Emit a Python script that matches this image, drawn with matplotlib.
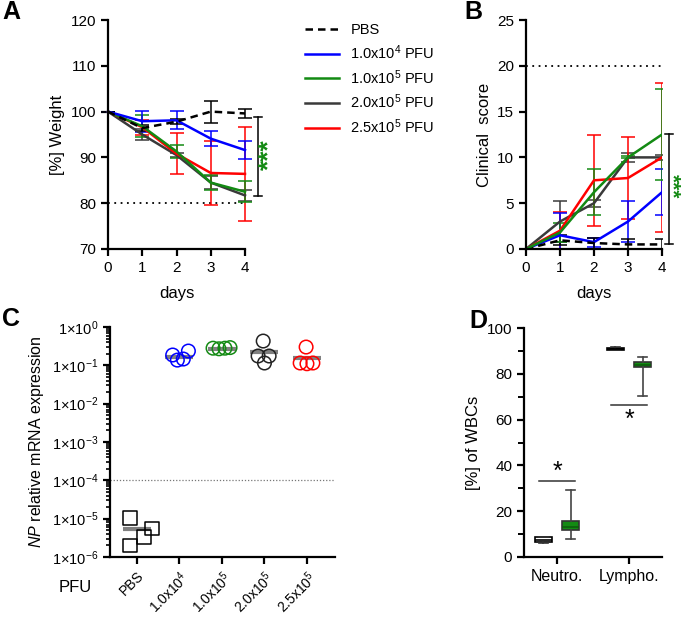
import numpy as np
import matplotlib
matplotlib.use('Agg')
import matplotlib.pyplot as plt
from matplotlib.ticker import LogLocator, NullFormatter, FixedLocator

plt.rcParams['font.family'] = ['Liberation Sans', 'DejaVu Sans']
plt.rcParams['mathtext.fontset'] = 'custom'
plt.rcParams['mathtext.rm'] = 'Liberation Sans'
plt.rcParams['mathtext.it'] = 'Liberation Sans:italic'
plt.rcParams['mathtext.bf'] = 'Liberation Sans:bold'

# ---- data ----
days = [0, 1, 2, 3, 4]
groups = ['PBS', '1.0x10$^4$ PFU', '1.0x10$^5$ PFU', '2.0x10$^5$ PFU', '2.5x10$^5$ PFU']
colors = ['black', '#0000ff', '#138a13', '#3a3a3a', '#ff0000']

# panel A: weight (%) mean and sd
weight_pbs = [100, 96.4, 97.8, 100.0, 99.6]
weight_pbs_err = [0, 0.6, 0.6, 2.4, 0.9]
weight_1e4 = [100, 97.9, 98.1, 94.1, 91.6]
weight_1e4_err = [0, 2.3, 2.0, 1.6, 2.0]
weight_1e5 = [100, 96.8, 91.3, 84.5, 82.5]
weight_1e5_err = [0, 2.4, 1.4, 1.6, 2.3]
weight_2e5 = [100, 95.0, 90.5, 84.5, 81.7]
weight_2e5_err = [0, 1.2, 0.5, 1.4, 1.2]
weight_25e5 = [100, 96.6, 90.8, 86.6, 86.4]
weight_25e5_err = [0, 1.6, 4.5, 7.0, 10.2]

# panel B: clinical score mean and sd
score_pbs = [0, 0.95, 0.65, 0.5, 0.5]
score_pbs_err = [0, 0.55, 0.6, 0.6, 0.6]
score_1e4 = [0, 1.5, 0.75, 3.0, 6.2]
score_1e4_err = [0, 2.4, 0.5, 2.25, 2.5]
score_1e5 = [0, 1.8, 6.2, 10.0, 12.5]
score_1e5_err = [0, 1.0, 2.5, 0.1, 5.0]
score_2e5 = [0, 3.0, 5.0, 10.0, 10.0]
score_2e5_err = [0, 2.25, 0.4, 0.5, 0.3]
score_25e5 = [0, 2.0, 7.5, 7.75, 10.0]
score_25e5_err = [0, 2.0, 5.0, 4.5, 8.1]

# panel C: NP relative mRNA expression
pfu_labels = ['PBS', '1.0x10$^4$', '1.0x10$^5$', '2.0x10$^5$', '2.5x10$^5$']
np_pbs = [1.03e-5, 5.6e-6, 3.3e-6, 2.0e-6]
np_1e4 = [0.186, 0.137, 0.146, 0.236]
np_1e5 = [0.28, 0.27, 0.28, 0.29]
np_2e5 = [0.43, 0.175, 0.175, 0.115]
np_25e5 = [0.30, 0.115, 0.11, 0.115]
np_offsets = [[-0.16, 0.35, 0.16, -0.16],
              [-0.16, -0.05, 0.09, 0.21],
              [-0.21, -0.07, 0.07, 0.19],
              [-0.03, -0.15, 0.11, 0.0],
              [-0.02, -0.16, 0.0, 0.14]]
np_means = [5.4e-6, 0.165, 0.27, 0.22, 0.155]

# panel D: WBC percentages (box stats)
cell_types = ['Neutro.', 'Lympho.']
box_pbs_med = [7.5, 91.0]
box_pbs_q1 = [6.5, 90.5]
box_pbs_q3 = [8.6, 91.4]
box_pbs_lo = [6.3, 90.4]
box_pbs_hi = [8.8, 91.5]
box_inf_med = [13.0, 84.0]
box_inf_q1 = [12.0, 83.0]
box_inf_q3 = [15.6, 85.2]
box_inf_lo = [8.0, 70.2]
box_inf_hi = [29.1, 87.3]

fig = plt.figure(figsize=(6.85, 6.17), dpi=100)
W, H = 685, 617


def add_ax(left, top, right, bottom):
    return fig.add_axes([left / W, 1 - bottom / H, (right - left) / W, (bottom - top) / H])


def style(ax):
    for s in ['top', 'right']:
        ax.spines[s].set_visible(False)
    for s in ['left', 'bottom']:
        ax.spines[s].set_linewidth(1.6)
    ax.tick_params(width=1.6, length=5, labelsize=11, direction='out')


# ---- A ----
axA = add_ax(108, 20, 245, 249)
style(axA)
wvals = [weight_pbs, weight_1e4, weight_1e5, weight_2e5, weight_25e5]
werrs = [weight_pbs_err, weight_1e4_err, weight_1e5_err, weight_2e5_err, weight_25e5_err]
axA.plot([0, 4], [80, 80], ls=(0, (1, 2.5)), color='black', lw=1.3)
order = [3, 4, 2, 1, 0]
for i in order:
    ls = (0, (3, 2)) if i == 0 else '-'
    axA.errorbar(days, wvals[i], yerr=werrs[i], color=colors[i], lw=1.8, ls=ls,
                 elinewidth=1.1, capsize=5, capthick=1.1, clip_on=False)
axA.set_xlim(0, 4)
axA.set_ylim(70, 120)
axA.set_yticks(range(70, 121, 10))
axA.set_xticks(days)
axA.set_xlabel('days', fontsize=12, labelpad=8)
axA.set_ylabel('[%] Weight', fontsize=12)
axA.plot([4.38, 4.38], [81.5, 98.8], color='black', lw=1.1, clip_on=False)
axA.plot([4.26, 4.5], [98.8, 98.8], color='black', lw=1.1, clip_on=False)
axA.plot([4.26, 4.5], [81.5, 81.5], color='black', lw=1.1, clip_on=False)
axA.text(4.72, 90.5, '***', color='#138a13', rotation=90, fontsize=19, fontweight='bold',
         ha='center', va='center', clip_on=False)

handles = []
for i in range(5):
    ls = (0, (3, 2)) if i == 0 else '-'
    h, = axA.plot([], [], color=colors[i], lw=1.8, ls=ls)
    handles.append(h)
fig.legend(handles, groups, loc='upper left', bbox_to_anchor=(292 / W, 1 - 10 / H),
           frameon=False, fontsize=10.5, handlelength=2.3, labelspacing=0.42, handletextpad=0.8)

# ---- B ----
axB = add_ax(526, 20, 662, 249)
style(axB)
svals = [score_pbs, score_1e4, score_1e5, score_2e5, score_25e5]
serrs = [score_pbs_err, score_1e4_err, score_1e5_err, score_2e5_err, score_25e5_err]
axB.plot([0, 4], [20, 20], ls=(0, (1, 2.5)), color='black', lw=1.3)
for i in [3, 4, 1, 0, 2]:
    ls = (0, (3, 2)) if i == 0 else '-'
    axB.errorbar(days, svals[i], yerr=serrs[i], color=colors[i], lw=1.8, ls=ls,
                 elinewidth=1.1, capsize=5, capthick=1.1, clip_on=True)
axB.set_xlim(0, 4)
axB.set_ylim(0, 25)
axB.set_yticks(range(0, 26, 5))
axB.set_xticks(days)
axB.set_xlabel('days', fontsize=12, labelpad=8)
axB.set_ylabel('Clinical  score', fontsize=12)
axB.plot([4.2, 4.2], [0.5, 12.6], color='black', lw=1.1, clip_on=False)
axB.plot([4.09, 4.31], [12.6, 12.6], color='black', lw=1.1, clip_on=False)
axB.plot([4.09, 4.31], [0.5, 0.5], color='black', lw=1.1, clip_on=False)
axB.text(4.29, 6.9, '***', color='#138a13', rotation=-90, fontsize=15, fontweight='bold',
         ha='center', va='center', clip_on=False)

# ---- C ----
axC = add_ax(110, 327, 335, 557)
style(axC)
axC.set_yscale('log')
axC.set_ylim(1e-6, 1)
axC.set_xlim(-0.635, 4.66)
axC.axhline(1e-4, color='#777777', ls=(0, (1, 1.5)), lw=0.9)
npvals = [np_pbs, np_1e4, np_1e5, np_2e5, np_25e5]
for i in range(5):
    xs = [i + o for o in np_offsets[i]]
    axC.hlines(np_means[i], i - 0.33, i + 0.33, color='#808080', lw=3, zorder=2)
    axC.scatter(xs, npvals[i], s=95, marker='s' if i == 0 else 'o', facecolors='none',
                edgecolors=colors[i] if i != 3 else '#222222', linewidths=1.1, zorder=3)
axC.set_xticks(range(5))
axC.set_xticklabels(pfu_labels, rotation=45, ha='right', rotation_mode='anchor', fontsize=10)
axC.tick_params(axis='x', length=5, pad=3)
axC.set_yticks([10.0 ** k for k in range(-6, 1)])
axC.set_yticklabels(['1×10$^{%d}$' % k for k in range(-6, 1)], fontsize=10.5)
axC.yaxis.set_minor_locator(LogLocator(base=10, subs=np.arange(2, 10)))
axC.yaxis.set_minor_formatter(NullFormatter())
axC.tick_params(axis='y', which='minor', length=3, width=1.2)
axC.set_ylabel('$\\it{NP}$ relative mRNA expression', fontsize=11.5)
fig.text(75 / W, 1 - 588 / H, 'PFU', fontsize=12, ha='center', va='center')

# ---- D ----
axD = add_ax(524, 328, 662, 557)
style(axD)
stats_pbs = []
stats_inf = []
for k in range(2):
    stats_pbs.append(dict(med=box_pbs_med[k], q1=box_pbs_q1[k], q3=box_pbs_q3[k],
                          whislo=box_pbs_lo[k], whishi=box_pbs_hi[k]))
    stats_inf.append(dict(med=box_inf_med[k], q1=box_inf_q1[k], q3=box_inf_q3[k],
                          whislo=box_inf_lo[k], whishi=box_inf_hi[k]))
xpos = np.arange(2)
bp1 = axD.bxp(stats_pbs, positions=xpos - 0.19, widths=0.24, showfliers=False, patch_artist=True,
              medianprops=dict(color='black', lw=1.2), whiskerprops=dict(color='#333333', lw=1.2),
              capprops=dict(color='#333333', lw=1.2), boxprops=dict(lw=1.2, edgecolor='black'))
bp1['boxes'][0].set_facecolor('white')
bp1['boxes'][1].set_facecolor('black')
bp2 = axD.bxp(stats_inf, positions=xpos + 0.19, widths=0.24, showfliers=False, patch_artist=True,
              medianprops=dict(color='#0b5e0b', lw=1.2), whiskerprops=dict(color='#444444', lw=1.2),
              capprops=dict(color='#444444', lw=1.2), boxprops=dict(lw=1.2, edgecolor='#333333'))
for b in bp2['boxes']:
    b.set_facecolor('#138a13')
axD.set_xlim(-0.458, 1.458)
axD.set_ylim(0, 100)
axD.set_xticks(xpos)
axD.set_xticklabels(cell_types, fontsize=11.5)
axD.set_yticks(range(0, 101, 20))
axD.yaxis.set_minor_locator(FixedLocator(range(10, 100, 20)))
axD.tick_params(axis='y', which='minor', length=4, width=1.4)
axD.set_ylabel('[%] of WBCs', fontsize=12)
axD.plot([-0.25, 0.25], [33, 33], color='#333333', lw=1.1)
axD.text(0.0, 37, '*', fontsize=18, ha='center', va='center')
axD.plot([0.75, 1.25], [66.5, 66.5], color='#333333', lw=1.1)
axD.text(1.0, 60, '*', fontsize=18, ha='center', va='center')

# panel letters
for lab, x, y in [('A', 2, 12), ('B', 464, 12), ('C', 2, 319), ('D', 469, 321)]:
    fig.text(x / W, 1 - y / H, lab, fontsize=18, fontweight='bold', ha='left', va='center')

fig.savefig('out.png', dpi=100)
